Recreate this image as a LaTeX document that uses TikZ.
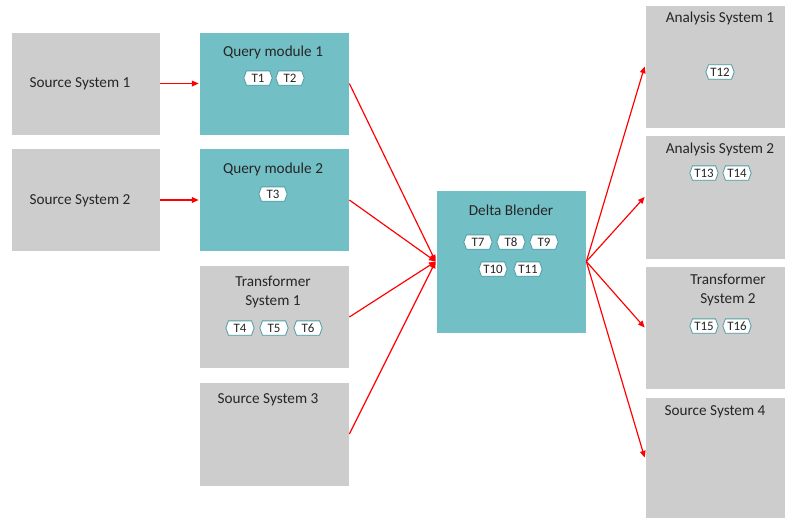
\documentclass[tikz,border=0pt]{standalone}
\usepackage{fontspec}
\setmainfont{Carlito}
\usepackage{xcolor}
\definecolor{source}{HTML}{CDCDCD}
\definecolor{query}{HTML}{72BFC5}
\definecolor{tagline}{HTML}{4E9EA5}
\definecolor{flow}{HTML}{FF0000}
\usepackage{tikz}
\usetikzlibrary{arrows.meta,shapes.symbols}

\begin{document}
\begin{tikzpicture}[x=0.03cm, y=-0.03cm,
    sysbox/.style={fill=source, draw=white, line width=0.6pt, inner sep=0pt,
                   minimum width=4.5cm, minimum height=3.09cm},
    querybox/.style={sysbox, fill=query},
    title/.style={font=\fontsize{13}{15.5}\selectfont, text=black!85, align=center},
    tagbox/.style={signal, signal to=west and east, signal pointer angle=140,
                   draw=tagline, fill=white, line width=0.7pt, inner sep=0.5pt,
                   minimum width=0.85cm, minimum height=0.43cm,
                   font=\fontsize{11}{12}\selectfont, text=black!85},
    flowline/.style={draw=flow, line width=1pt, -{Triangle[length=2mm,width=1.7mm]}}]
  \useasboundingbox (0,0) rectangle (785,518);

  % left column
  \node[sysbox, minimum width=4.47cm] (src1) at (85.5,83.5) {};
  \node[sysbox, minimum width=4.47cm] (src2) at (85.5,200) {};
  \node[title] at (80,84) {Source System 1};
  \node[title] at (80,201) {Source System 2};

  % middle column
  \node[querybox] (qm1) at (274,83.5) {};
  \node[querybox] (qm2) at (274,200) {};
  \node[sysbox] (tr1) at (274,317) {};
  \node[sysbox, minimum height=3.12cm] (src3) at (274,434) {};
  \node[title] at (273,52) {Query module 1};
  \node[title] at (273,169) {Query module 2};
  \node[title] at (273,292) {Transformer\\System 1};
  \node[title] at (268,400) {Source System 3};

  % blender
  \node[querybox, minimum height=4.29cm] (blend) at (511,261.5) {};
  \node[title] at (511,210) {Delta Blender};

  % right column
  \node[sysbox, minimum width=4.2cm, minimum height=3.69cm] (an1) at (715,66.5) {};
  \node[sysbox, minimum width=4.2cm, minimum height=3.72cm] (an2) at (715,197) {};
  \node[sysbox, minimum width=4.2cm, minimum height=3.69cm] (tr2) at (715,327.5) {};
  \node[sysbox, minimum width=4.2cm, minimum height=3.63cm] (src4) at (715,457.5) {};
  \node[title] at (720,18) {Analysis System 1};
  \node[title] at (720,149) {Analysis System 2};
  \node[title] at (728,290) {Transformer\\System 2};
  \node[title] at (715,412) {Source System 4};

  % tags
  \foreach \n/\x/\y in {1/258/78, 2/290/78, 3/273/194, 4/240/328, 5/274/328, 6/308/328,
                        7/478/242, 8/511/242, 9/544/242, 10/493/269, 11/528/269,
                        12/720/72, 13/704/173, 14/737/173, 15/704/326, 16/737/326}
    \node[tagbox] (t\n) at (\x,\y) {T\n};

  % flows
  \foreach \a/\b in {src1/qm1, src2/qm2}
    \draw[flowline] (\a.east) -- (\b.west);
  \foreach \a in {qm1, qm2, tr1, src3}
    \draw[flowline] (\a.east) -- (blend.west);
  \foreach \b in {an1, an2, tr2, src4}
    \draw[flowline] (blend.east) -- (\b.west);
\end{tikzpicture}
\end{document}
